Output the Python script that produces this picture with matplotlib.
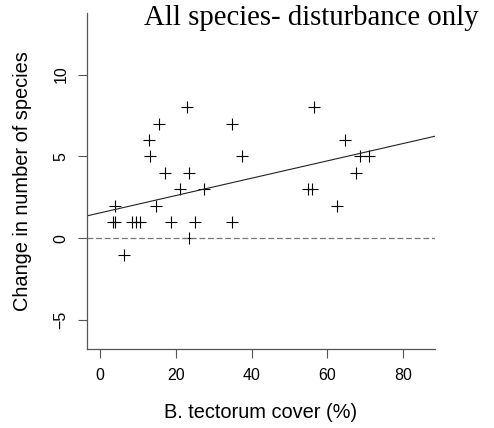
import matplotlib
matplotlib.use("Agg")
import matplotlib.pyplot as plt
import numpy as np

plt.rcParams['font.family'] = ['Liberation Sans', 'DejaVu Sans']
plt.rcParams['lines.scale_dashes'] = False

# Data
cover = [4.1, 3.4, 4.1, 6.3, 8.5, 9.6, 10.7, 12.9, 13.3, 15.5, 14.9, 17.2, 18.7,
         21.2, 22.9, 23.4, 23.6, 25.1, 27.5, 34.9, 34.9, 37.5, 55.0, 56.0, 56.4,
         62.5, 64.7, 67.6, 68.7, 71.1]
change = [2, 1, 1, -1, 1, 1, 1, 6, 5, 7, 2, 4, 1,
          3, 8, 4, 0, 1, 3, 7, 1, 5, 3, 3, 8,
          2, 6, 4, 5, 5]
fit_intercept = 1.55
fit_slope = 0.053
xticks = [0, 20, 40, 60, 80]
yticks = [-5, 0, 5, 10]

W, H = 494, 428
fig = plt.figure(figsize=(W / 100, H / 100), dpi=100)
left, right, top, bottom = 87, 435, 13, 349
ax = fig.add_axes([left / W, 1 - bottom / H, (right - left) / W, (bottom - top) / H])

xlim = (-3.4, 88.4)
ylim = (-6.76, 13.76)
ax.set_xlim(*xlim)
ax.set_ylim(*ylim)

ax.plot(cover, change, linestyle='none', marker='+', markersize=8.6,
        markeredgewidth=0.8, color='black')

xs = np.array(xlim)
ax.plot(xs, fit_intercept + fit_slope * xs, color='#222222', lw=0.8)
ax.axhline(0, color='#777777', lw=0.9, dashes=(4.2, 2.0))

for s in ['top', 'right']:
    ax.spines[s].set_visible(False)
for s in ['left', 'bottom']:
    ax.spines[s].set_color('#555555')
    ax.spines[s].set_linewidth(0.9)

ax.set_xticks(xticks)
ax.set_yticks(yticks)
ax.tick_params(axis='both', length=6.5, width=0.8, color='#555555',
               labelsize=11.5, pad=7)
for lab in ax.get_yticklabels():
    lab.set_rotation(90)
    lab.set_va('center')

ax.set_xlabel('B. tectorum cover (%)', fontsize=14.4)
ax.set_ylabel('Change in number of species', fontsize=14.4)
ax.xaxis.set_label_coords(0.5, -(412 - bottom) / (bottom - top))
ax.xaxis.label.set_va('center')
ax.yaxis.set_label_coords(-(left - 23) / (right - left), 0.5)
ax.yaxis.label.set_va('center')

fig.text(311 / W, 1 - 25 / H, 'All species- disturbance only',
         ha='center', va='baseline', fontsize=20.7,
         family=['Liberation Serif', 'DejaVu Serif'])

fig.savefig('out.png', dpi=100)
